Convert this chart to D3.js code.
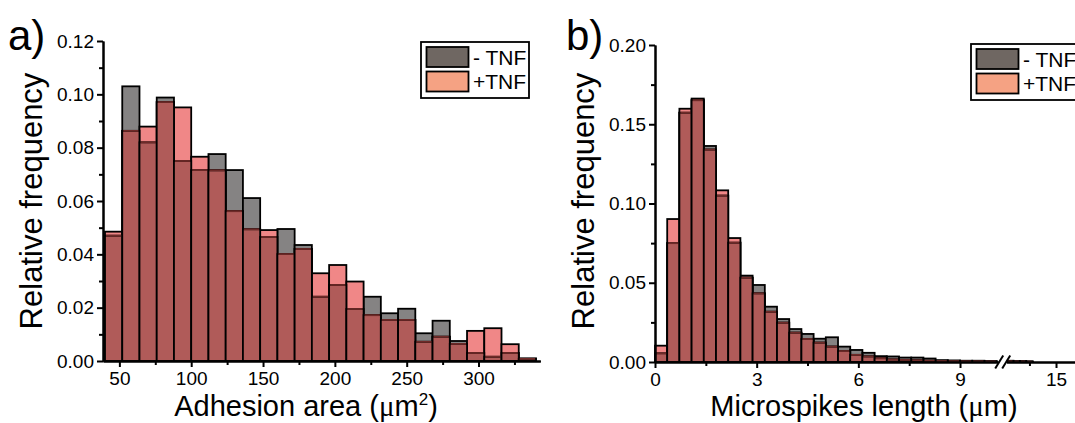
<!DOCTYPE html>
<html>
<head>
<meta charset="utf-8">
<script src="https://cdn.jsdelivr.net/npm/d3@7"></script>
<style>
  body { margin: 0; background: #fff; }
  svg { display: block; font-family: "Liberation Sans", Arial, sans-serif; }
</style>
</head>
<body>
<svg id="chart" width="1075" height="423"></svg>
<script>
// ---- Panel a: adhesion area (µm²), bins of 12 starting at 40 ----
const areaBinStart = 40;
const areaBinWidth = 12;
const areaMinusTNF = [0.0470, 0.1030, 0.0820, 0.0988, 0.0750, 0.0716, 0.0776, 0.0716, 0.0611, 0.0465,
                      0.0495, 0.0435, 0.0241, 0.0285, 0.0195, 0.0241, 0.0179, 0.0196, 0.0104, 0.0151,
                      0.0075, 0.0030, 0.0016, 0.0030, 0.0010];
const areaPlusTNF  = [0.0485, 0.0863, 0.0879, 0.0971, 0.0951, 0.0766, 0.0715, 0.0562, 0.0494, 0.0491,
                      0.0401, 0.0420, 0.0329, 0.0360, 0.0298, 0.0172, 0.0154, 0.0154, 0.0072, 0.0091,
                      0.0064, 0.0113, 0.0123, 0.0063, 0.0008];
const areaXTicks = [50, 100, 150, 200, 250, 300];
const areaXMinor = [75, 125, 175, 225, 275, 325];
const areaYTicks = [0, 0.02, 0.04, 0.06, 0.08, 0.10, 0.12];
const areaYMinor = [0.01, 0.03, 0.05, 0.07, 0.09, 0.11];

// ---- Panel b: microspike length (µm), bins of 0.36 starting at 0 ----
const spikeBinStart = 0;
const spikeBinWidth = 0.36;
const spikeMinusTNF = [0.0055, 0.0750, 0.1573, 0.1662, 0.1363, 0.1050, 0.0753, 0.0545, 0.0486, 0.0349,
                       0.0271, 0.0208, 0.0177, 0.0147, 0.0156, 0.0097, 0.0076, 0.0058, 0.0037, 0.0035,
                       0.0028, 0.0028, 0.0022, 0.0012, 0.0010, 0.0008, 0.0008, 0.0006];
const spikePlusTNF  = [0.0103, 0.0902, 0.1598, 0.1652, 0.1340, 0.1083, 0.0782, 0.0532, 0.0433, 0.0317,
                       0.0248, 0.0185, 0.0145, 0.0122, 0.0097, 0.0069, 0.0045, 0.0035, 0.0024, 0.0016,
                       0.0013, 0.0011, 0.0008, 0.0006, 0.0005, 0.0004, 0.0004, 0.0003];
// bins beyond the axis break
const spikeTailStart = 12.24;
const spikeTailMinus = [0.0008, 0.0006, 0.0006, 0.0004];
const spikeTailPlus  = [0.0004, 0.0003, 0.0003, 0.0002];
const spikeXTicks = [0, 3, 6, 9];
const spikeXMinor = [1.5, 4.5, 7.5];
const spikeXTicksAfter = [15];
const spikeXMinorAfter = [13.5];
const spikeYTicks = [0, 0.05, 0.10, 0.15, 0.20];
const spikeYMinor = [0.025, 0.075, 0.125, 0.175];

const seriesNames = ["- TNF", "+TNF"];

// colours
const C = {
  minusOnly: "#858383",
  plusOnly: "#f08787",
  overlap: "#b05b59",
  innerEdge: "#6e2a28",
  legMinus: "#6f6762",
  legPlus: "#f5a283"
};

const svg = d3.select("#chart");

function drawBars(g, x, y, start, width, minus, plus) {
  const bins = minus.map((m, i) => ({
    x0: start + i * width,
    x1: start + (i + 1) * width,
    m: m,
    p: plus[i]
  }));
  const bar = (sel, key, fill) => sel.selectAll(null).data(bins).join("rect")
    .attr("x", d => x(d.x0))
    .attr("width", d => x(d.x1) - x(d.x0))
    .attr("y", d => y(key(d)))
    .attr("height", d => y(0) - y(key(d)))
    .attr("fill", fill)
    .attr("stroke", "#000")
    .attr("stroke-width", 1.8);
  bar(g.append("g"), d => d.m, C.minusOnly);
  bar(g.append("g"), d => d.p, C.plusOnly);
  bar(g.append("g"), d => Math.min(d.m, d.p), C.overlap);
  // top edge of the lower bar, seen through the taller one
  g.append("g").selectAll("line").data(bins).join("line")
    .attr("x1", d => x(d.x0) + 1)
    .attr("x2", d => x(d.x1) - 1)
    .attr("y1", d => y(Math.min(d.m, d.p)))
    .attr("y2", d => y(Math.min(d.m, d.p)))
    .attr("stroke", C.innerEdge)
    .attr("stroke-width", 1.8);
}

function styleAxis(sel) {
  sel.select(".domain").attr("stroke", "#000").attr("stroke-width", 2);
  sel.selectAll(".tick line").attr("stroke", "#000").attr("stroke-width", 2);
  sel.selectAll("text").attr("font-size", 19).attr("fill", "#000")
    .attr("font-family", '"Liberation Sans", Arial, sans-serif');
}

function minorOnly(sel) {
  sel.selectAll(".tick text").remove();
}

function yAxes(g, y, xPos, major, minor) {
  g.append("g").attr("transform", `translate(${xPos},0)`)
    .call(d3.axisLeft(y).tickValues(minor).tickSize(4).tickSizeOuter(0))
    .call(styleAxis).call(minorOnly);
  g.append("g").attr("transform", `translate(${xPos},0)`)
    .call(d3.axisLeft(y).tickValues(major).tickSize(6).tickSizeOuter(0).tickPadding(3).tickFormat(d3.format(".2f")))
    .call(styleAxis);
}

function xAxes(g, x, yPos, major, minor, fmt) {
  g.append("g").attr("transform", `translate(0,${yPos})`)
    .call(d3.axisBottom(x).tickValues(minor).tickSize(4).tickSizeOuter(0))
    .call(styleAxis).call(minorOnly);
  g.append("g").attr("transform", `translate(0,${yPos})`)
    .call(d3.axisBottom(x).tickValues(major).tickSize(6).tickSizeOuter(0).tickPadding(5).tickFormat(fmt))
    .call(styleAxis);
}

function legend(g, lx, ly) {
  const lg = g.append("g").attr("transform", `translate(${lx},${ly})`);
  lg.append("rect").attr("x", 0).attr("y", 0).attr("width", 108).attr("height", 56)
    .attr("fill", "#fff").attr("stroke", "#000").attr("stroke-width", 1.8);
  const fills = [C.legMinus, C.legPlus];
  seriesNames.forEach((name, i) => {
    lg.append("rect").attr("x", 5.5).attr("y", 5 + i * 24.5).attr("width", 42).attr("height", 20)
      .attr("fill", fills[i]).attr("stroke", "#000").attr("stroke-width", 1.8);
    lg.append("text").attr("x", 52).attr("y", 22.5 + i * 24.5).attr("font-size", 21)
      .attr("fill", "#000").text(name);
  });
}

function yTitle(g, cx, cy) {
  g.append("text").attr("transform", `translate(${cx},${cy}) rotate(-90)`)
    .attr("text-anchor", "middle").attr("font-size", 31).attr("fill", "#000")
    .text("Relative frequency");
}

function panelLabel(g, x, y, t) {
  g.append("text").attr("x", x).attr("y", y).attr("font-size", 42).attr("fill", "#000").text(t);
}

// ================= Panel a =================
{
  const g = svg.append("g");
  const x = d3.scaleLinear().domain([38.6, 343]).range([103, 540.3]);
  const y = d3.scaleLinear().domain([0, 0.12]).range([361, 41]);
  drawBars(g, x, y, areaBinStart, areaBinWidth, areaMinusTNF, areaPlusTNF);
  xAxes(g, x, 361, areaXTicks, areaXMinor, d3.format("d"));
  yAxes(g, y, 103, areaYTicks, areaYMinor);
  legend(g, 421, 42);
  yTitle(g, 42, 201);
  const t = g.append("text").attr("x", 306).attr("y", 416).attr("text-anchor", "middle")
    .attr("font-size", 29).attr("fill", "#000");
  t.append("tspan").text("Adhesion area (");
  t.append("tspan").attr("font-family", '"Liberation Serif", serif').text("μ");
  t.append("tspan").text("m");
  t.append("tspan").attr("font-size", 17).attr("dy", -11).text("2");
  t.append("tspan").attr("dy", 11).text(")");
  panelLabel(g, 8, 50, "a)");
}

// ================= Panel b =================
{
  const g = svg.append("g");
  const x1 = d3.scaleLinear().domain([0, 10.15]).range([655, 999]);
  const x2 = d3.scaleLinear().domain([12.2, 16.1]).range([1006.4, 1075.5]);
  const y = d3.scaleLinear().domain([0, 0.20]).range([362, 45]);
  drawBars(g, x1, y, spikeBinStart, spikeBinWidth, spikeMinusTNF, spikePlusTNF);
  drawBars(g, x2, y, spikeTailStart, spikeBinWidth, spikeTailMinus, spikeTailPlus);
  xAxes(g, x1, 362, spikeXTicks, spikeXMinor, d3.format("d"));
  xAxes(g, x2, 362, spikeXTicksAfter, spikeXMinorAfter, d3.format("d"));
  yAxes(g, y, 655, spikeYTicks, spikeYMinor);

  // axis break marks
  const bx = (x1.range()[1] + x2.range()[0]) / 2;
  g.append("rect").attr("x", bx - 4).attr("y", 358).attr("width", 8).attr("height", 8).attr("fill", "#fff");
  [-3.5, 3.5].forEach(o => {
    g.append("line")
      .attr("x1", bx + o - 4).attr("y1", 368.5)
      .attr("x2", bx + o + 4).attr("y2", 355.5)
      .attr("stroke", "#000").attr("stroke-width", 2);
  });

  legend(g, 971, 44);
  yTitle(g, 594, 201);
  const t = g.append("text").attr("x", 864).attr("y", 416).attr("text-anchor", "middle")
    .attr("font-size", 29).attr("fill", "#000");
  t.append("tspan").text("Microspikes length (");
  t.append("tspan").attr("font-family", '"Liberation Serif", serif').text("μ");
  t.append("tspan").text("m)");
  panelLabel(g, 566, 50, "b)");
}
</script>
</body>
</html>
